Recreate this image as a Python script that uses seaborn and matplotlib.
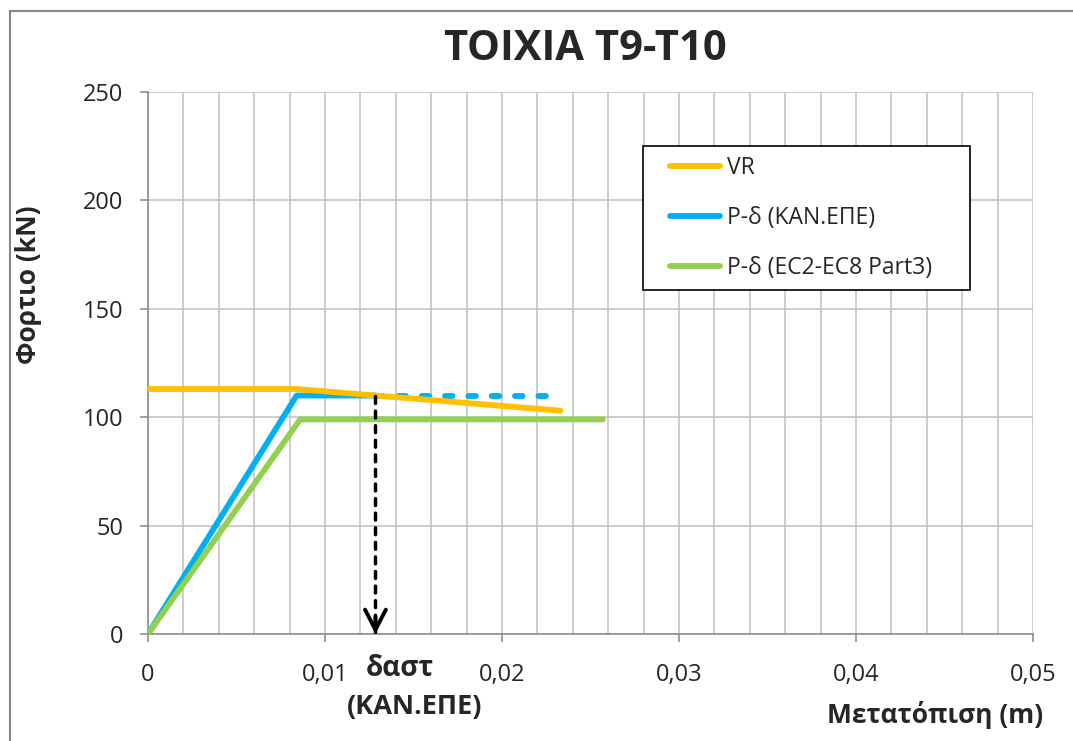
import matplotlib
matplotlib.use("Agg")
import matplotlib.pyplot as plt
import matplotlib.patches as mpatches
from matplotlib.ticker import MultipleLocator, FuncFormatter
import seaborn as sns

# --- data ---
vr_x = [0.0, 0.0084, 0.0233]
vr_y = [113, 113, 103]

kan_x = [0.0, 0.0084, 0.01285]
kan_y = [0, 110, 110]

kan_ext_x = [0.01285, 0.0229]
kan_ext_y = [110, 110]

ec_x = [0.0, 0.0086, 0.0257]
ec_y = [0, 99, 99]

d_ast = 0.01285
d_ast_load = 110

series_labels = ["VR", "P-δ (ΚΑΝ.ΕΠΕ)", "P-δ (EC2-EC8 Part3)"]
series_colors = ["#FFC000", "#00B0F0", "#92D050"]

sns.set_style("white")
plt.rcParams["font.family"] = ["Open Sans", "DejaVu Sans"]

W, H = 1073, 741
fig = plt.figure(figsize=(W / 100, H / 100), dpi=100)
ax = fig.add_axes([148 / W, 1 - 634 / H, 885 / W, 542 / H])

lw = 4.2
sns.lineplot(x=kan_x, y=kan_y, sort=False, estimator=None, color=series_colors[1],
             lw=lw, ax=ax, zorder=3, solid_capstyle="round")
sns.lineplot(x=kan_ext_x, y=kan_ext_y, sort=False, estimator=None, color=series_colors[1],
             lw=lw, ax=ax, zorder=3, linestyle=(0, (1.3, 2.7)), dash_capstyle="round")
sns.lineplot(x=ec_x, y=ec_y, sort=False, estimator=None, color=series_colors[2],
             lw=lw, ax=ax, zorder=4, solid_capstyle="round")
sns.lineplot(x=vr_x, y=vr_y, sort=False, estimator=None, color=series_colors[0],
             lw=lw, ax=ax, zorder=5, solid_capstyle="round")

# dashed arrow down to delta_ast
ax.plot([d_ast, d_ast], [d_ast_load, 1], color="black", lw=2.5, ls=(0, (2, 2.2)),
        dash_capstyle="round", zorder=6)
ax.annotate("", xy=(d_ast, 0), xytext=(d_ast, 8),
            arrowprops=dict(arrowstyle="->,head_length=0.58,head_width=0.3", color="black",
                            lw=2.8, mutation_scale=25, shrinkA=0, shrinkB=0),
            zorder=6)

ax.set_xlim(0, 0.05)
ax.set_ylim(0, 250)
ax.xaxis.set_major_locator(MultipleLocator(0.01))
ax.xaxis.set_minor_locator(MultipleLocator(0.002))
ax.yaxis.set_major_locator(MultipleLocator(50))
ax.xaxis.set_major_formatter(FuncFormatter(lambda v, p: "0" if v == 0 else f"{v:.2f}".replace(".", ",")))

ax.grid(True, which="both", color="#C0C0C0", lw=1.1)
ax.set_axisbelow(True)
for s in ["top", "right"]:
    ax.spines[s].set_visible(False)
for s in ["left", "bottom"]:
    ax.spines[s].set_color("#868686")
    ax.spines[s].set_linewidth(1.1)

ax.tick_params(axis="y", which="major", direction="out", length=6, width=1.1, color="#868686",
               pad=12, labelsize=17, left=True)
ax.tick_params(axis="x", which="major", direction="out", length=6, width=1.1, color="#868686",
               pad=15, labelsize=17, bottom=True)
ax.tick_params(axis="x", which="minor", length=0)

fig.suptitle("ΤΟΙΧΙΑ Τ9-Τ10", x=585 / W, y=1 - 50 / H, va="center",
             fontsize=30, fontweight="bold")
ax.set_ylabel("Φορτιο (kN)", fontsize=19, fontweight="bold")
ax.yaxis.set_label_coords((42 - 148) / 885, (634 - 285) / 542)
ax.set_xlabel("Μετατόπιση (m)", fontsize=19, fontweight="bold", va="center")
ax.xaxis.set_label_coords((935 - 148) / 885, (634 - 715) / 542)

fig.text(400 / W, 1 - 669 / H, "δαστ", ha="center", va="center",
         fontsize=20, fontweight="bold")
fig.text(415 / W, 1 - 707 / H, "(ΚΑΝ.ΕΠΕ)", ha="center", va="center",
         fontsize=19.5, fontweight="bold")

# legend box drawn separately so its padding matches the reference
ax.add_patch(mpatches.Rectangle(((643 - 148) / 885, (634 - 290) / 542), 327 / 885, 144 / 542,
                                transform=ax.transAxes, facecolor="white", edgecolor="black",
                                lw=1.2, zorder=8))
handles = [plt.Line2D([], [], color=c, lw=lw, solid_capstyle="round") for c in series_colors]
leg = ax.legend(handles, series_labels, loc="upper left",
                bbox_to_anchor=((670 - 148) / 885, (634 - 156) / 542),
                fontsize=16.5, frameon=False, labelspacing=1.13, handlelength=2.2,
                handletextpad=0.3, borderpad=0, borderaxespad=0)
leg.set_zorder(9)

# outer chart border (cropped at right/bottom in the reference)
fig.patches.append(mpatches.Rectangle((10 / W, -0.1), 1.2, 1.1 - 11 / H,
                                      transform=fig.transFigure, fill=False,
                                      edgecolor="#878787", lw=1.5))

fig.savefig("out.png", dpi=100)
